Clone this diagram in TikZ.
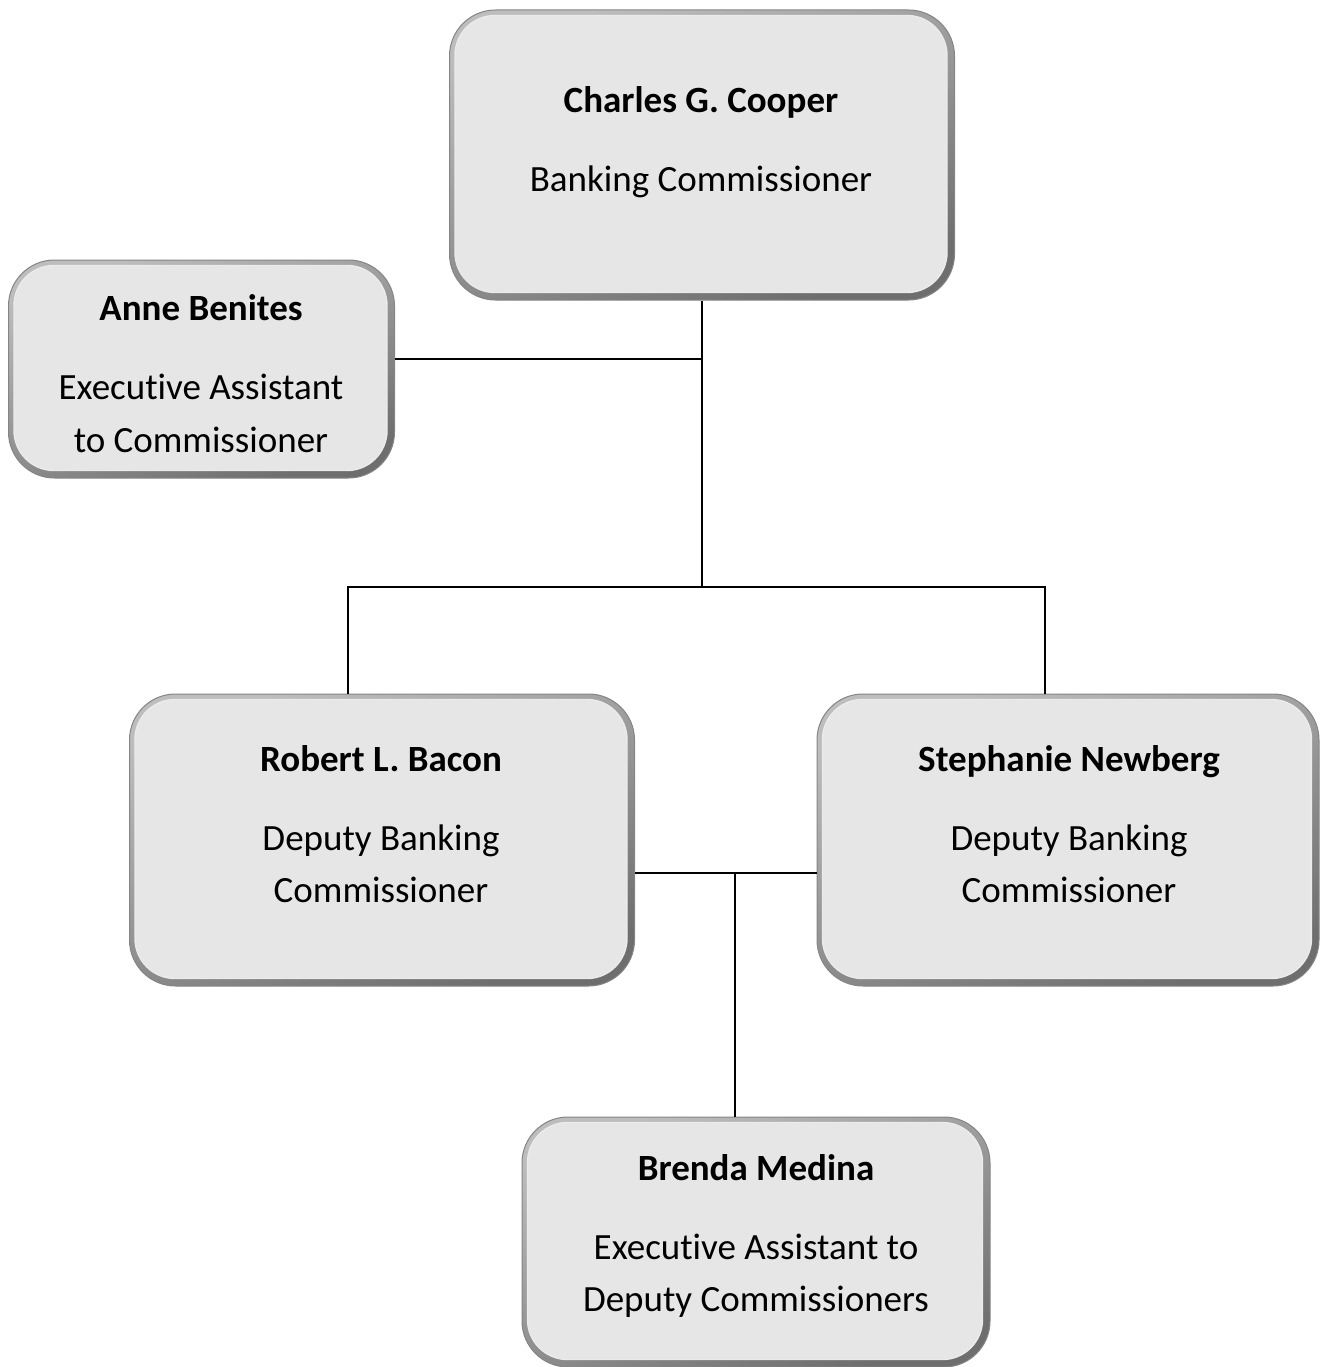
\documentclass[tikz,border=0pt]{standalone}
\usepackage{fontspec}
\setmainfont{Carlito}[Ligatures=NoCommon]
\definecolor{cardfill}{HTML}{E6E6E6}
\definecolor{rimtop}{HTML}{BDBDBD}
\definecolor{rimbot}{HTML}{6E6E6E}
\definecolor{rimedge}{HTML}{858585}
% a rounded card: bevel rim plus light face
\newcommand\orgcard[5]{%
  \node[card, minimum width=#4pt, minimum height=#5pt] (#1) at (#2,#3) {};
  \path[face] ([shift={(6,6)}]#1.north west) rectangle ([shift={(-8,-8)}]#1.south east);
}
\begin{document}
\begin{tikzpicture}[x=1pt,y=-1pt,
  link/.style={draw=black, line width=1.5pt},
  card/.style={rounded corners=46pt, inner sep=0pt, draw=rimedge, line width=1pt,
    shading=axis, top color=rimtop, bottom color=rimbot, shading angle=20},
  face/.style={fill=cardfill, draw=white!92!black, line width=1.4pt, rounded corners=40pt},
  personname/.style={font=\fontsize{37}{44}\selectfont\bfseries, anchor=base, inner sep=0pt},
  roletext/.style={font=\fontsize{37}{44}\selectfont, anchor=base, inner sep=0pt}]
\useasboundingbox (0,0) rectangle (1319,1367);

% junction points of the connectors
\coordinate (annej) at (703,359);
\coordinate (hub) at (703,587);
\coordinate (rb) at (348,587);
\coordinate (sn) at (1045,587);
\coordinate (dj) at (735,873);

\orgcard{top}{702}{155}{505}{290}
\orgcard{anne}{201.5}{369}{386}{218}
\orgcard{robert}{382}{840}{505}{292}
\orgcard{steph}{1068}{840}{502}{292}
\orgcard{brenda}{756}{1242}{468}{250}

\draw[link] (hub -| top.south) -- (top.south);
\draw[link] (annej -| anne.east) -- (annej);
\draw[link] (rb |- robert.north) -- (rb) -- (sn) -- (sn |- steph.north);
\draw[link] (dj -| robert.east) -- (dj -| steph.west);
\draw[link] (dj) -- (dj |- brenda.north);

% texts
\node[personname] (topname) at (701,113) {Charles G. Cooper};
\node[roletext] (toprole) at (701,192) {Banking Commissioner};

\node[personname] (annename) at (201,320) {Anne Benites};
\node[roletext] (annerole1) at (201,399) {Executive Assistant};
\node[roletext] (annerole2) at (201,452) {to Commissioner};

\node[personname] (robname) at (381,771) {Robert L. Bacon};
\node[roletext] (robrole1) at (381,850) {Deputy Banking};
\node[roletext] (robrole2) at (381,902) {Commissioner};

\node[personname] (stephname) at (1069,771) {Stephanie Newberg};
\node[roletext] (stephrole1) at (1069,850) {Deputy Banking};
\node[roletext] (stephrole2) at (1069,902) {Commissioner};

\node[personname] (brendaname) at (756,1180) {Brenda Medina};
\node[roletext] (brendarole1) at (756,1259) {Executive Assistant to};
\node[roletext] (brendarole2) at (756,1311) {Deputy Commissioners};
\end{tikzpicture}
\end{document}
